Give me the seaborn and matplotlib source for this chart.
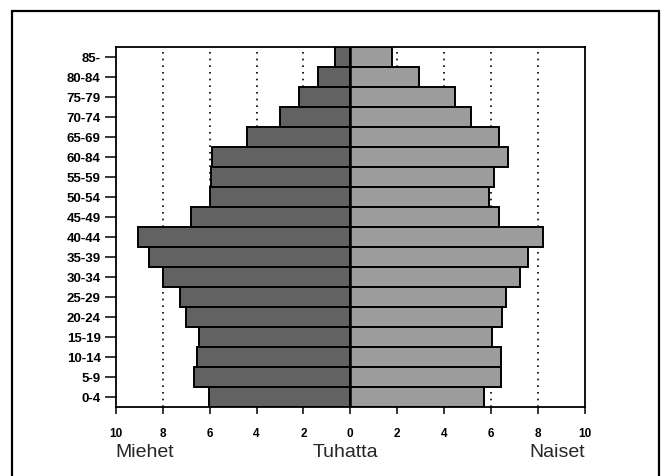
import matplotlib
matplotlib.use('Agg')
import matplotlib.pyplot as plt
import seaborn as sns
import pandas as pd
from matplotlib.patches import Rectangle

ages = ['85-', '80-84', '75-79', '70-74', '65-69', '60-84', '55-59', '50-54', '45-49',
        '40-44', '35-39', '30-34', '25-29', '20-24', '15-19', '10-14', '5-9', '0-4']
men = [0.66, 1.38, 2.2, 3.01, 4.39, 5.9, 5.96, 6.0, 6.79,
       9.07, 8.61, 8.0, 7.26, 7.0, 6.47, 6.55, 6.65, 6.05]
women = [1.79, 2.94, 4.47, 5.15, 6.36, 6.72, 6.15, 5.93, 6.36,
         8.24, 7.6, 7.24, 6.65, 6.46, 6.06, 6.42, 6.43, 5.72]
xticks = [-10, -8, -6, -4, -2, 0, 2, 4, 6, 8, 10]
xticklabels = ['10', '8', '6', '4', '2', '0', '2', '4', '6', '8', '10']

sns.set_theme(style='white')
plt.rcParams['font.family'] = ['Liberation Sans', 'DejaVu Sans']

fig = plt.figure(figsize=(6.63, 4.77), dpi=100)
ax = fig.add_axes([116/663, 1 - 407.5/477, (584.5-116)/663, (407.5-47.5)/477])

df = pd.DataFrame({
    'age': ages * 2,
    'sex': ['Miehet'] * len(ages) + ['Naiset'] * len(ages),
    'value': [-m for m in men] + women,
})

sns.barplot(data=df, y='age', x='value', hue='sex', order=ages,
            hue_order=['Miehet', 'Naiset'],
            palette={'Miehet': '#626262', 'Naiset': '#9c9c9c'},
            dodge=False, width=1.0, edgecolor='black', linewidth=1.4,
            orient='h', errorbar=None, legend=False, ax=ax, zorder=2)

ax.set_xlim(-10, 10)
ax.set_ylim(len(ages) - 0.5, -0.5)
for v in [-8, -6, -4, -2, 2, 4, 6, 8]:
    ax.axvline(v, color='black', ls=(0, (1, 3)), lw=1.2, zorder=1)
ax.axvline(0, color='black', lw=1.8, zorder=3)

ax.set_xticks(xticks)
ax.set_xticklabels(xticklabels, fontsize=8.5, fontweight='bold')
for lbl in ax.get_yticklabels():
    lbl.set_fontsize(9.5)
    lbl.set_fontweight('bold')
ax.tick_params(axis='both', bottom=True, left=True, direction='out',
               width=1.1, color='black', labelcolor='black')
ax.tick_params(axis='x', length=5, pad=10)
ax.tick_params(axis='y', length=8, pad=3)
ax.set_xlabel('')
ax.set_ylabel('')
for s in ax.spines.values():
    s.set_visible(True)
    s.set_color('black')
    s.set_linewidth(1.3)

fig.text(145/663, 1 - 453/477, 'Miehet', ha='center', va='center', fontsize=14)
fig.text(345/663, 1 - 453/477, 'Tuhatta', ha='center', va='center', fontsize=14)
fig.text(557/663, 1 - 453/477, 'Naiset', ha='center', va='center', fontsize=14)

fig.patches.append(Rectangle((12/663, -0.05), (659-12)/663, (1 - 11.5/477) + 0.05,
                             transform=fig.transFigure, fill=False, lw=1.6,
                             ec='black'))

fig.savefig('out.png', dpi=100)
